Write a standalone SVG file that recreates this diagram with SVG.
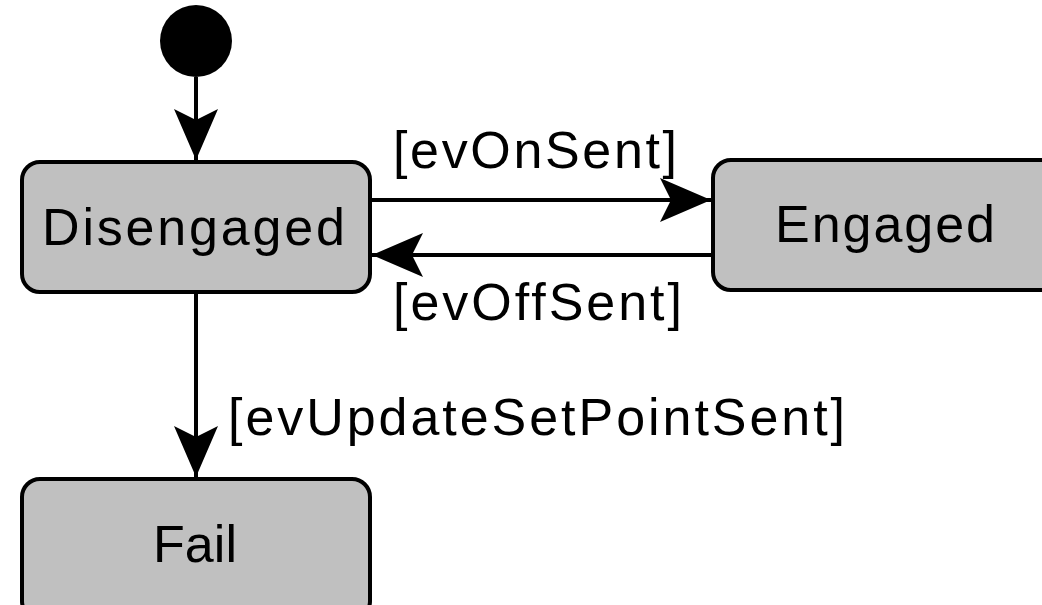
<svg xmlns="http://www.w3.org/2000/svg" width="1042" height="605" viewBox="0 0 1042 605">
  <defs>
    <style>
      .state rect { fill: #c0c0c0; stroke: #000; stroke-width: 4; }
      .label { font-family: "Liberation Sans", Arial, sans-serif; font-size: 52px; fill: #000; }
      .edge { fill: none; stroke: #000; stroke-width: 4; }
    </style>
    <marker id="arrow" markerUnits="userSpaceOnUse" viewBox="-52 -24 54 48" refX="0" refY="0" markerWidth="54" markerHeight="48" orient="auto">
      <path d="M0,0 L-51,-22 L-40,0 L-51,22 Z" fill="#000"/>
    </marker>
  </defs>
  <rect width="1042" height="605" fill="#fff"/>

  <g id="initial">
    <circle cx="196" cy="41" r="36" fill="#000"/>
  </g>

  <g id="disengaged" class="state">
    <rect x="22" y="162" width="348" height="130" rx="18" ry="18"/>
    <text class="label" x="42" y="245" textLength="303" lengthAdjust="spacing">Disengaged</text>
  </g>

  <g id="engaged" class="state">
    <rect x="713" y="160" width="360" height="130" rx="18" ry="18"/>
    <text class="label" x="775" y="242" textLength="220" lengthAdjust="spacing">Engaged</text>
  </g>

  <g id="fail" class="state">
    <rect x="22" y="479" width="348" height="140" rx="18" ry="18"/>
    <text class="label" x="153" y="562" textLength="84" lengthAdjust="spacing">Fail</text>
  </g>

  <g id="connectors">
    <path class="edge" d="M196,77 L196,160" marker-end="url(#arrow)"/>
    <path class="edge" d="M370,200 L711,200" marker-end="url(#arrow)"/>
    <path class="edge" d="M713,255 L372,255" marker-end="url(#arrow)"/>
    <path class="edge" d="M196,292 L196,477" marker-end="url(#arrow)"/>
    <text class="label" x="393" y="168" textLength="284" lengthAdjust="spacing">[evOnSent]</text>
    <text class="label" x="393" y="320" textLength="289" lengthAdjust="spacing">[evOffSent]</text>
    <text class="label" x="228" y="435" textLength="617" lengthAdjust="spacing">[evUpdateSetPointSent]</text>
  </g>
</svg>
